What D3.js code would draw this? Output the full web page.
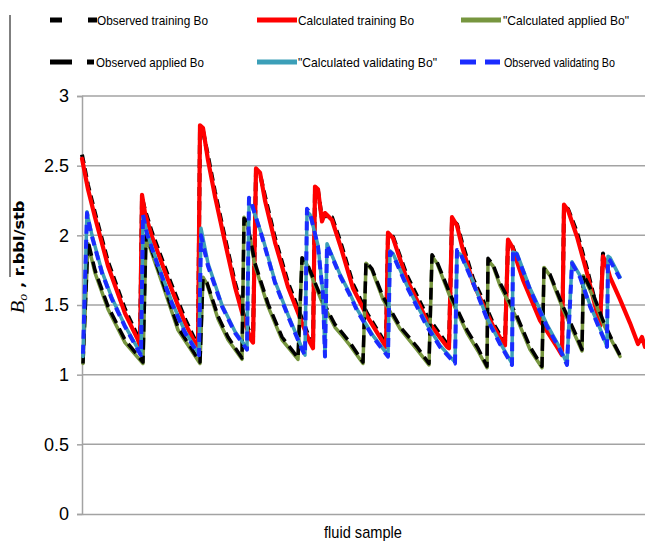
<!DOCTYPE html>
<html>
<head>
<meta charset="utf-8">
<script src="https://cdn.jsdelivr.net/npm/d3@7/dist/d3.min.js"></script>
<style>
  html, body { margin: 0; padding: 0; background: #fff; }
  svg { display: block; }
  .lg { font-family: "Liberation Sans", "DejaVu Sans", sans-serif; font-size: 13px; fill: #000; }
  .tick text { font-family: "Liberation Sans", "DejaVu Sans", sans-serif; font-size: 18px; fill: #000; }
</style>
</head>
<body>
<svg id="chart" width="645" height="542"></svg>
<script>
// ---------- data (sample index vs Bo) ----------
const trainSamples = [0,3,6.5,13,21.5,28,29,30,31.5,35,43,51.5,56.5,58,59,60.5,63,66.5,71.5,76.5,81.5,84.5,85.5,87,89,91.5,96.5,103,110,114,115.5,116.5,118,120,121.5,125,129.5,135.5,142.5,151.5,152,153,155.5,162.5,172.5,182.5,183.5,185,187.5,190,195.5,202.5,205.5,210.5,211.5,213,215,220.5,229,237.5,240,241,243,247.5,252.5,257.5,259,260.5,262,264,269,274,278,280,281.5];
const calcTraining = [2.55,2.33,2.13,1.78,1.44,1.25,1.20,2.29,2.16,1.99,1.68,1.37,1.23,1.19,2.79,2.77,2.54,2.28,1.95,1.63,1.37,1.25,1.23,2.48,2.45,2.25,1.95,1.63,1.37,1.23,1.19,2.35,2.33,2.10,2.16,2.11,1.91,1.62,1.42,1.21,1.20,2.02,1.98,1.68,1.39,1.20,1.19,2.13,2.07,1.92,1.66,1.44,1.35,1.23,1.21,1.97,1.92,1.68,1.39,1.20,1.14,2.22,2.18,1.99,1.73,1.44,1.35,1.85,1.80,1.70,1.54,1.37,1.22,1.27,1.20];
const obsTraining = [2.58,2.36,2.16,1.81,1.47,1.27,1.21,2.27,2.18,2.02,1.71,1.40,1.25,1.20,2.76,2.75,2.57,2.31,1.98,1.66,1.40,1.27,1.25,2.46,2.44,2.28,1.98,1.66,1.40,1.25,1.20,2.33,2.32,2.12,2.14,2.13,1.94,1.65,1.44,1.23,1.22,2.00,1.99,1.71,1.42,1.22,1.21,2.11,2.08,1.95,1.69,1.47,1.37,1.25,1.23,1.95,1.93,1.71,1.42,1.22,1.16,2.20,2.19,2.02,1.76,1.47,1.37,1.87,1.82];

const appliedSamples = [0.5,3,6.5,13,21.5,30.5,32,33,40,48,59,60.5,62.5,68,73,80,81,82.5,86.5,93,100,108,110,112.5,120,126.5,129.5,134,140.5,142,145,150.5,159,167.5,173.5,175,177.5,184,192.5,198,202.5,203,205.5,209,217.5,224,230,231,234,240.5,247.5,250,250.7,255.5,260.5,265,269];
const obsApplied = [1.08,1.96,1.75,1.49,1.25,1.09,2.00,1.97,1.68,1.34,1.09,1.69,1.66,1.42,1.27,1.12,2.12,2.10,1.80,1.51,1.27,1.12,1.84,1.80,1.54,1.36,1.31,1.23,1.09,1.81,1.76,1.56,1.345,1.20,1.08,1.86,1.81,1.58,1.32,1.19,1.06,1.835,1.79,1.66,1.42,1.20,1.06,1.76,1.72,1.49,1.27,1.18,1.72,1.58,1.39,1.25,1.14];
const calcApplied = [1.08,1.94,1.73,1.47,1.23,1.08,1.98,1.95,1.66,1.32,1.08,1.70,1.65,1.40,1.25,1.11,2.13,2.09,1.78,1.49,1.25,1.11,1.83,1.79,1.52,1.34,1.29,1.21,1.08,1.80,1.75,1.54,1.33,1.18,1.07,1.85,1.80,1.56,1.30,1.17,1.05,1.82,1.78,1.64,1.40,1.18,1.05,1.77,1.71,1.47,1.25,1.17,1.71,1.56,1.37,1.24,1.13];

const validSamples = [0.5,2.5,3,5,10,15,21.5,29,29.5,30.5,32.5,37.5,45,51.5,58,58.5,59.5,63,70,76.5,82.5,83.5,85,90,96.5,103,110,111.5,112.5,114,118,120.5,121.5,122.5,129,134,137.5,145.5,153,154,155.5,162.5,172.5,179,186.5,187.5,189.5,195.5,202.5,209,215,215.5,217.5,224,232.5,239,242.5,245,249,254,260.5,262.5,263,264,269];
const obsValidating = [1.15,2.16,2.12,1.99,1.73,1.54,1.345,1.15,1.14,2.15,2.01,1.80,1.51,1.30,1.15,1.14,2.00,1.78,1.49,1.30,1.18,2.27,2.22,1.99,1.66,1.42,1.18,1.14,2.19,2.16,1.92,1.57,1.13,1.93,1.71,1.57,1.46,1.27,1.13,1.88,1.86,1.63,1.345,1.20,1.08,1.895,1.86,1.66,1.40,1.22,1.07,1.895,1.86,1.61,1.345,1.18,1.07,1.80,1.70,1.49,1.27,1.20,1.83,1.82,1.69];
const calcValidating = [1.13,2.17,2.13,2.00,1.74,1.55,1.35,1.16,1.14,2.13,2.02,1.81,1.52,1.31,1.16,1.14,2.05,1.80,1.50,1.31,1.19,2.22,2.21,2.00,1.67,1.43,1.19,1.14,2.17,2.15,1.93,1.58,1.13,1.94,1.72,1.58,1.47,1.28,1.14,1.89,1.87,1.64,1.36,1.21,1.09,1.88,1.86,1.67,1.41,1.23,1.08,1.88,1.87,1.62,1.36,1.19,1.08,1.81,1.71,1.50,1.28,1.20,1.85,1.84,1.70];

const yTicks = [0, 0.5, 1, 1.5, 2, 2.5, 3];
const xLabel = "fluid sample";

const legendNames = ["Observed training Bo", "Calculated training Bo", "\"Calculated applied  Bo\"",
                     "Observed applied Bo", "\"Calculated validating Bo\"", "Observed validating Bo"];

// ---------- layout ----------
const svg = d3.select("#chart");
const plotL = 82, plotR = 645, plotT = 96, plotB = 514;
const x = d3.scaleLinear().domain([0, 281.5]).range([plotL, plotR]);
const y = d3.scaleLinear().domain([0, 3]).range([plotB, plotT]);

// gridlines
svg.append("g").selectAll("line").data(yTicks.filter(d => d > 0)).join("line")
  .attr("x1", plotL).attr("x2", plotR)
  .attr("y1", d => y(d)).attr("y2", d => y(d))
  .attr("stroke", "#a3a3a3").attr("stroke-width", 1.5);

// y axis
const yAxis = svg.append("g").attr("transform", `translate(${plotL},0)`)
  .call(d3.axisLeft(y).tickValues(yTicks).tickSize(5).tickPadding(8).tickFormat(d3.format("~g")));
yAxis.select(".domain").attr("stroke", "#a3a3a3").attr("stroke-width", 1.5);
yAxis.selectAll(".tick line").attr("stroke", "#a3a3a3").attr("stroke-width", 1.5);

// x axis baseline
const xAxis = svg.append("g").attr("transform", `translate(0,${plotB})`)
  .call(d3.axisBottom(x).tickValues([]).tickSizeOuter(0));
xAxis.select(".domain").attr("stroke", "#a3a3a3").attr("stroke-width", 1.5);

// series
const line = d3.line().x(d => x(d[0])).y(d => y(d[1]));
const zipS = (xs, ys) => ys.map((v, i) => [xs[i], v]);

const series = [
  { name: legendNames[0], data: zipS(trainSamples, obsTraining), color: "#000", w: 4, dash: "9,5", cap: "butt" },
  { name: legendNames[1], data: zipS(trainSamples, calcTraining), color: "#ff0000", w: 4.2, dash: null, cap: "round" },
  { name: legendNames[2], data: zipS(appliedSamples, calcApplied), color: "#77963f", w: 3.5, dash: null, cap: "round" },
  { name: legendNames[3], data: zipS(appliedSamples, obsApplied), color: "#000", w: 3.5, dash: "12,6", cap: "butt" },
  { name: legendNames[4], data: zipS(validSamples, calcValidating), color: "#3c9fb8", w: 3.5, dash: null, cap: "round" },
  { name: legendNames[5], data: zipS(validSamples, obsValidating), color: "#1a2bff", w: 4, dash: "9,6", cap: "butt" }
];

svg.append("g").selectAll("path").data(series).join("path")
  .attr("d", d => line(d.data))
  .attr("fill", "none")
  .attr("stroke", d => d.color)
  .attr("stroke-width", d => d.w)
  .attr("stroke-dasharray", d => d.dash)
  .attr("stroke-linejoin", "round")
  .attr("stroke-linecap", d => d.cap);

// legend
const lg = svg.append("g");
const legendPos = [
  { lx: 50, lx2: 97, tx: 97, ty: 20, tw: 111, dash: "12,26" },
  { lx: 257, lx2: 297, tx: 298, ty: 20, tw: 116, dash: null },
  { lx: 461, lx2: 501, tx: 503, ty: 20, tw: 126, dash: null },
  { lx: 50, lx2: 94, tx: 96, ty: 62, tw: 108, dash: "22,15" },
  { lx: 257, lx2: 297, tx: 298, ty: 62, tw: 139, dash: null },
  { lx: 460, lx2: 500, tx: 504, ty: 62, tw: 111, dash: "16,9" }
];
series.forEach((s, i) => {
  const p = legendPos[i];
  lg.append("line").attr("x1", p.lx).attr("x2", p.lx2).attr("y1", p.ty).attr("y2", p.ty)
    .attr("stroke", s.color).attr("stroke-width", 5).attr("stroke-dasharray", p.dash);
  lg.append("text").attr("class", "lg").attr("x", p.tx).attr("y", p.ty + 5)
    .attr("textLength", p.tw).attr("lengthAdjust", "spacingAndGlyphs").text(s.name);
});

// left border line
svg.append("line").attr("x1", 10).attr("x2", 10).attr("y1", 15).attr("y2", 277)
  .attr("stroke", "#000").attr("stroke-width", 1);

// y label
const yl = svg.append("text")
  .attr("transform", "translate(24,257) rotate(-90)")
  .attr("text-anchor", "middle")
  .attr("textLength", 113).attr("lengthAdjust", "spacingAndGlyphs");
yl.append("tspan").style("font-family", "'Liberation Serif', 'DejaVu Serif', serif")
  .style("font-style", "italic").style("font-size", "18px").text("B");
yl.append("tspan").style("font-family", "'Liberation Serif', 'DejaVu Serif', serif")
  .style("font-style", "italic").style("font-size", "12px").attr("dy", 3).text("o");
yl.append("tspan").attr("dy", -3).style("font-family", "'DejaVu Sans', sans-serif")
  .style("font-weight", "bold").style("font-size", "14px").text(" ,  r.bbl/stb");

// x label
svg.append("text").attr("x", 363).attr("y", 538).attr("text-anchor", "middle")
  .attr("textLength", 78).attr("lengthAdjust", "spacingAndGlyphs")
  .style("font-family", "'Liberation Sans', 'DejaVu Sans', sans-serif")
  .style("font-size", "17px").text(xLabel);
</script>
</body>
</html>
